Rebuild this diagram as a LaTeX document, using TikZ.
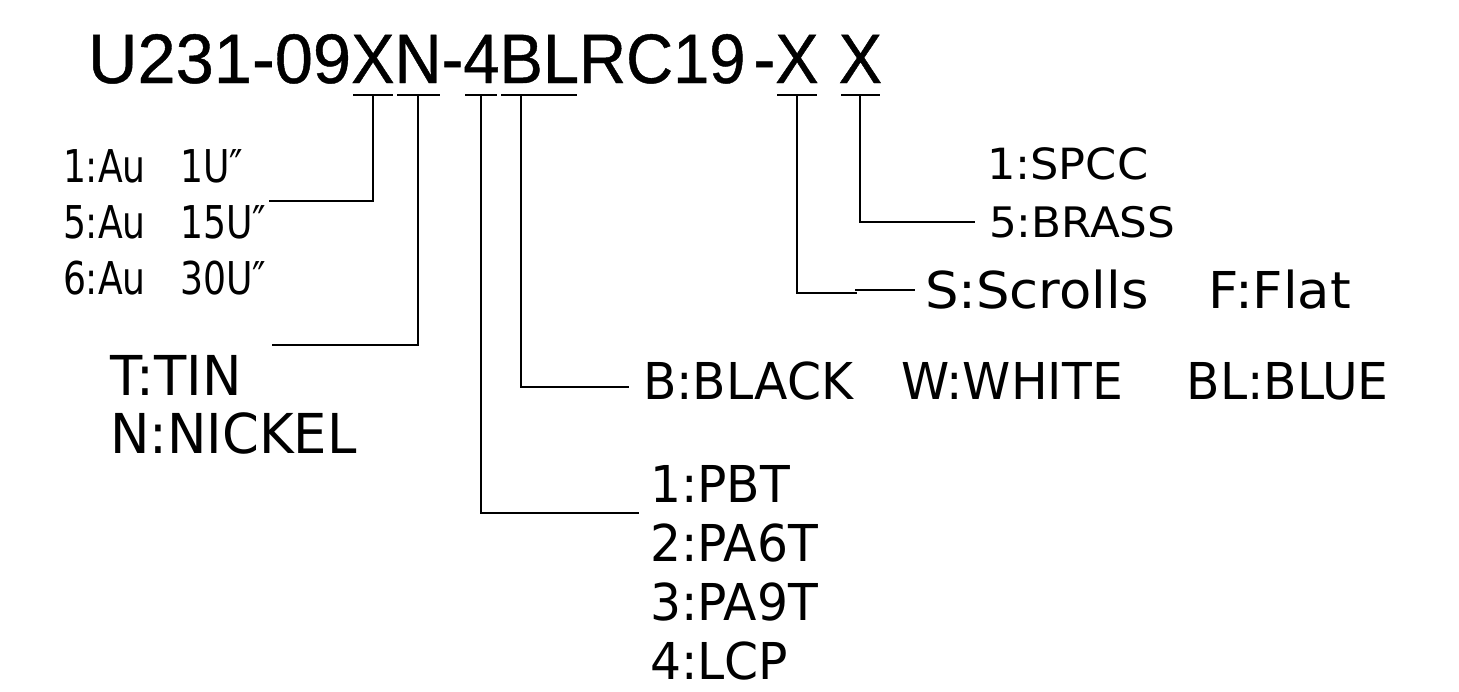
\documentclass[tikz,border=0pt]{standalone}
\usepackage{fontspec}
\setmainfont{Liberation Sans}
\newfontfamily\ttlfont[FakeStretch=0.93,FakeBold=0.6]{Liberation Sans}
\newfontfamily\ttlwide[FakeStretch=0.98,FakeBold=0.6]{Liberation Sans}
\newfontfamily\cadfont[FakeStretch=0.96]{DejaVu Sans}
\newfontfamily\cadwide[FakeStretch=1.04]{DejaVu Sans}
\newfontfamily\cadnarrow[FakeStretch=0.8]{DejaVu Sans}
\usetikzlibrary{calc}

\tikzset{
	ttl/.style={inner sep=0pt,outer sep=0pt,anchor=base west,font=\ttlfont\fontsize{35}{40}\selectfont},
	lbl/.style={inner sep=0pt,outer sep=0pt,anchor=north west,align=left,font=\cadfont\fontsize{25.4}{29.5}\selectfont},
	lead/.style={line width=1pt,line cap=rect},
}

\begin{document}
\begin{tikzpicture}[x=0.5pt,y=-0.5pt]
	\useasboundingbox (0,0) rectangle (1459,691);

	\node [ttl,font=\ttlwide\fontsize{35}{40}\selectfont](t0) at (88,83) {U231-09};
	\node [ttl](tX) at (t0.base east) {X};
	\node [ttl](tN) at (tX.base east) {N};
	\node [ttl](tD) at (tN.base east) {-};
	\node [ttl](t4) at (tD.base east) {4};
	\node [ttl](tB) at (t4.base east) {B};
	\node [ttl](tL) at (tB.base east) {L};
	\node [ttl](tR) at (tL.base east) {RC19};
	\node [ttl](tD2) at ([xshift=4pt]tR.base east) {-};
	\node [ttl](tX1) at (tD2.base east) {X};
	\node [ttl](tX2) at ([xshift=10pt]tX1.base east) {X};

	\node [lbl,font=\cadnarrow\fontsize{22.6}{28}\selectfont](au) at (63,150) {1:Au\ \ \ 1U″\\5:Au\ \ \ 15U″\\6:Au\ \ \ 30U″};
	\node [lbl,font=\cadfont\fontsize{27.5}{29}\selectfont](tin) at (110,355) {T:TIN\\N:NICKEL};
	\node [lbl,font=\cadwide\fontsize{21.5}{28}\selectfont](spcc) at (987,148) {1:SPCC};
	\node [lbl,font=\cadwide\fontsize{21}{28}\selectfont](brass) at (989,206) {5:BRASS};
	\node [lbl,font=\cadwide\fontsize{25.4}{29.5}\selectfont](scr) at (925,270) {S:Scrolls\hspace{30pt}F:Flat};
	\node [lbl](black) at (643,362) {B:BLACK\hspace{24pt}W:WHITE\hspace{32pt}BL:BLUE};
	\node [lbl](pbt) at (650,465) {1:PBT\\2:PA6T\\3:PA9T\\4:LCP};

	\coordinate (kX) at ($(tX.base)+(0,12)$);
	\coordinate (kN) at ($(tN.base)+(0,12)$);
	\coordinate (k4) at ($(t4.base)+(0,12)$);
	\coordinate (kB) at ($(tB.base)+(0,12)$);
	\coordinate (kX1) at ($(tX1.base)+(0,12)$);
	\coordinate (kX2) at ($(tX2.base)+(0,12)$);
	\coordinate (jog) at ($(scr.west)+(-69,3)$);

	\draw [lead] ($(tX.base west)+(3,12)$) -- ($(tX.base east)+(-3,12)$);
	\draw [lead] ($(tN.base west)+(3,12)$) -- ($(tN.base east)+(-3,12)$);
	\draw [lead] ($(t4.base west)+(3,12)$) -- ($(t4.base east)+(-3,12)$);
	\draw [lead] ($(tB.base west)+(3,12)$) -- ($(tL.base east)+(-3,12)$);
	\draw [lead] ($(tX1.base west)+(3,12)$) -- ($(tX1.base east)+(-3,12)$);
	\draw [lead] ($(tX2.base west)+(3,12)$) -- ($(tX2.base east)+(-3,12)$);

	\draw [lead] (kX) |- ($(au.north east)+(4,51)$);
	\draw [lead] (kN) |- ($(tin.north west)+(163,-10)$);
	\draw [lead] (k4) |- ($(pbt.north west)+(-12,48)$);
	\draw [lead] (kB) |- ($(black.north west)+(-15,25)$);
	\draw [lead] (kX1) |- (jog);
	\draw [lead] ($(jog)+(0,-3)$) -- ($(scr.west)+(-11,0)$);
	\draw [lead] (kX2) |- ($(brass.west)+(-15,0)$);
\end{tikzpicture}
\end{document}
